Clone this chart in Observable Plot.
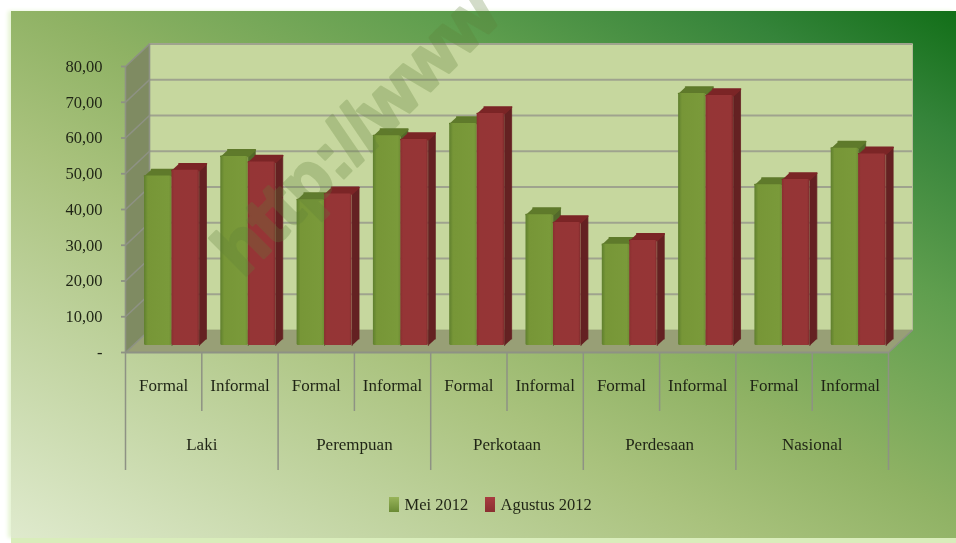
<!DOCTYPE html>
<html><head><meta charset="utf-8">
<script src="https://cdn.jsdelivr.net/npm/d3@7"></script>
<script src="https://cdn.jsdelivr.net/npm/@observablehq/plot@0.6"></script>
<style>
html,body{margin:0;padding:0;background:#fff;overflow:hidden;width:956px;height:543px}
#bg{position:absolute;left:11px;top:11px;width:945px;height:527px;
background:linear-gradient(29deg,#dfeacd 0%,#a9c27d 38%,#8fb264 52%,#5f9e4e 72%,#35843a 88%,#126f18 100%);
box-shadow:0 5px 0 #d9edbb,-3px 0 4px #e6f4d4}
#chart{position:absolute;left:0;top:0;filter:blur(.45px)}
</style></head><body>
<div id="bg"></div><div id="chart"></div>
<script>
const groups = ["Laki","Perempuan","Perkotaan","Perdesaan","Nasional"];
const kinds = ["Formal","Informal"];
const mei = [47.4,52.9,40.8,58.7,62.1,36.6,28.3,70.5,45.0,55.2];
const agustus = [49.0,51.3,42.4,57.6,64.9,34.4,29.4,69.9,46.4,53.6];
const seriesNames = ["Mei 2012","Agustus 2012"];
const yTicks = [0,10,20,30,40,50,60,70,80];

const W=956,H=543,L=125,R=888,B=352,T=66;
const ux=(R-L)/10, uy=(B-T)/80;
const wallX=24/ux, wallY=22.5/uy;      // wall depth in data units
const capX=7/ux, capY=6.5/uy;          // bar depth
const off=0.249, bw=0.36;
const pxX=p=>(p-L)/ux, pxY=p=>(B-p)/uy;

const slots=mei.map((_,i)=>i);
function faces(vals,shift,name){
  const side=[],cap=[];
  vals.forEach((v,i)=>{
    const x0=i+off+shift, x1=x0+bw, base=7/uy;
    [[x1,base],[x1,v+base],[x1+capX,v+base+capY],[x1+capX,base+capY]].forEach(([x,y])=>side.push({x,y,id:name+i}));
    [[x0,v+base],[x1,v+base],[x1+capX,v+base+capY],[x0+capX,v+base+capY]].forEach(([x,y])=>cap.push({x,y,id:name+i}));
  });
  return {side,cap};
}
const g=faces(mei,0,"g"), r=faces(agustus,bw,"r");
const poly=(d,fill,sw=.8)=>Plot.line(d,{x:"x",y:"y",z:"id",fill,stroke:fill,strokeWidth:sw,strokeLinejoin:"round",curve:"linear"});
const fronts=(vals,shift,fill)=>Plot.rectY(slots,{x1:i=>i+off+shift,x2:i=>i+off+shift+bw,y1:0,y2:i=>vals[i],dy:-7,rx:1.5,fill});

function defs(){
  const ns="http://www.w3.org/2000/svg", d=document.createElementNS(ns,"defs");
  d.innerHTML=`<linearGradient id="gf" x1="0" x2="1" y1="0" y2="0"><stop offset="0" stop-color="#5f7f2e"/><stop offset=".14" stop-color="#779637"/><stop offset=".9" stop-color="#7a9a3a"/><stop offset="1" stop-color="#6f8d34"/></linearGradient>
  <linearGradient id="rf" x1="0" x2="1" y1="0" y2="0"><stop offset="0" stop-color="#8a2f30"/><stop offset=".1" stop-color="#953536"/><stop offset=".92" stop-color="#963536"/><stop offset="1" stop-color="#7d2a2b"/></linearGradient>
  <linearGradient id="lg" x1="0" x2="0" y1="0" y2="1"><stop offset="0" stop-color="#98b45a"/><stop offset="1" stop-color="#6a8a34"/></linearGradient>
  <linearGradient id="lr" x1="0" x2="0" y1="0" y2="1"><stop offset="0" stop-color="#a83c40"/><stop offset="1" stop-color="#8a2f30"/></linearGradient>`;
  return d;
}

const poly4=(pts)=>pts.map(([x,y])=>({x,y,id:"a"}));
const sideWall=poly4([[0,0],[wallX,wallY],[wallX,80+wallY],[0,80]]);
const floor=poly4([[0,0],[10,0],[10+wallX,wallY],[wallX,wallY]]);
const back=poly4([[wallX,wallY],[10+wallX,wallY],[10+wallX,80+wallY],[wallX,80+wallY]]);
const gridC="#9fa38e", frameC="#8e9284";
const font="'Liberation Serif',serif";
const lab=(d,x,y,o={})=>Plot.text(d,{x,y,fontSize:17,fill:"#1f2415",fontFamily:font,...o});

const plot=Plot.plot({
  width:W,height:H,marginLeft:L,marginRight:W-R,marginTop:T,marginBottom:H-B,
  x:{domain:[0,10],axis:null},
  y:{domain:[0,80],axis:null},
  style:{background:"transparent",overflow:"visible",fontFamily:font},
  marks:[
    defs,
    poly(back,"#c6d79e"),
    poly(sideWall,"#7f8b62"),
    poly(floor,"#989f76"),
    Plot.ruleY(yTicks.slice(1),{y:d=>d+wallY,x1:wallX,x2:10+wallX,stroke:gridC,strokeWidth:2.2}),
    Plot.link(yTicks,{x1:0,y1:d=>d,x2:wallX,y2:d=>d+wallY,stroke:frameC,strokeWidth:1.6}),
    Plot.ruleX([0,wallX],{y1:d=>d?wallY:0,y2:d=>d?80+wallY:80,stroke:frameC,strokeWidth:1.6}),
    Plot.ruleX([10+wallX],{y1:wallY,y2:80+wallY,stroke:"#b4bd9a",strokeWidth:1}),
    Plot.ruleY([0],{x1:0,x2:10,stroke:frameC,strokeWidth:2.2}),
    Plot.link([0],{x1:10,y1:0,x2:10+wallX,y2:wallY,stroke:frameC,strokeWidth:1.5}),
    // bars
    poly(g.side,"#53692a"),poly(g.cap,"#5f7a2b",1.6),fronts(mei,0,"url(#gf)"),
    poly(r.side,"#642122"),poly(r.cap,"#7b2526",1.6),fronts(agustus,bw,"url(#rf)"),
    // category axis
    Plot.ruleX([0,2,4,6,8,10],{y1:0,y2:pxY(470),stroke:frameC,strokeWidth:1.5}),
    Plot.ruleX([1,3,5,7,9],{y1:0,y2:pxY(411),stroke:frameC,strokeWidth:1.5}),
    lab(slots,i=>i+.5,()=>pxY(385.5),{text:i=>kinds[i%2]}),
    lab(groups,(d,i)=>2*i+1,()=>pxY(444.5),{text:d=>d}),
    // value axis
    Plot.axisY(yTicks,{anchor:"left",tickSize:4,tickPadding:19,stroke:frameC,strokeWidth:1.8,
      tickFormat:d=>d===0?"-":d3.format(".2f")(d).replace(".",","),
      fontSize:16.5,fontFamily:font,fill:"#1f2415",label:null}),
    // legend
    Plot.rect([0,1],{x1:d=>pxX(d?485:389),x2:d=>pxX(d?495:399),y1:pxY(512),y2:pxY(497),
      fill:d=>d?"url(#lr)":"url(#lg)"}),
    lab(seriesNames,(d,i)=>pxX(i?500:404),()=>pxY(504),{text:d=>d,textAnchor:"start",fontSize:16.5}),
    // watermark
    Plot.text(["http://www"],{x:pxX(226),y:pxY(262),text:d=>d,rotate:-45,textAnchor:"start",
      fontSize:72,fontWeight:"bold",fontFamily:"'Liberation Sans',sans-serif",fill:"#5f7f38",stroke:"#5f7f38",strokeWidth:3,opacity:.27})
  ]
});
document.getElementById("chart").appendChild(plot);
</script>
</body></html>
